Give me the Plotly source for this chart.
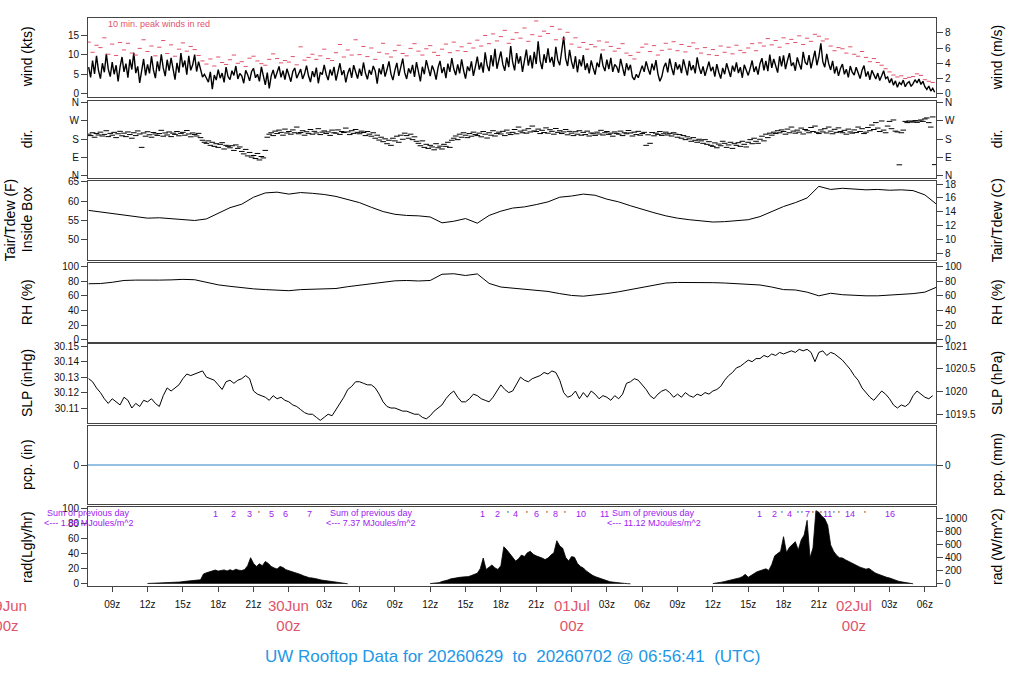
import plotly.graph_objects as go
from datetime import datetime, timedelta

FONT = "Liberation Sans, Arial, Helvetica, sans-serif"
RED = "#DF536B"
PURPLE = "#A020F0"
BLUE = "#2297E6"
PCP_BLUE = "#2E82C6"
FRAME = "#444444"

T_START = datetime(2026, 6, 29, 6, 56, 41)
T_END = datetime(2026, 7, 2, 6, 56, 41)
SERIES_START = datetime(2026, 6, 29, 7, 0)

# ---------------- data ----------------
# mean wind (kts), 10-minute steps from 29Jun 07:00
wind_kts = [
    6.8, 4.2, 8.5, 5.1, 9.7, 6.0,  3.9, 7.8, 5.5, 10.2, 6.3, 4.4,
    8.1, 5.0, 7.3, 3.2, 6.9, 9.4,  5.6, 7.7, 4.1, 8.8, 6.2, 10.5,
    5.3, 7.0, 2.8, 6.4, 8.9, 4.7,  7.5, 5.2, 9.6, 6.1, 4.0, 8.3,
    5.8, 10.1, 6.6, 4.5, 8.7, 5.9, 9.2, 6.4, 3.6, 7.9, 5.4, 10.4,
    6.8, 8.5, 4.9, 9.7, 6.0, 7.4,  10.0, 5.7, 8.2, 6.3, 4.3, 5.0,
    4.1, 3.0, 5.6, 1.2, 4.8, 3.5,  6.2, 4.0, 5.3, 2.9, 6.8, 4.4,
    3.6, 5.9, 4.7, 7.1, 3.8, 5.2,  4.6, 2.7, 6.0, 4.9, 3.3, 5.7,
    6.5, 4.1, 5.0, 3.2, 6.9, 4.5,  2.3, 5.4, 1.4, 4.6, 6.1, 3.9,
    5.5, 7.0, 4.2, 5.9, 3.6, 6.4,  4.8, 3.1, 5.7, 6.6, 4.0, 5.3,
    6.3, 3.8, 5.1, 7.2, 4.6, 3.0,  5.8, 4.3, 6.7, 2.7, 5.5, 4.9,
    7.4, 5.0, 3.5, 6.2, 4.7, 6.9,  3.4, 5.6, 7.8, 4.8, 6.0, 2.9,
    5.2, 6.6, 4.1, 7.3, 5.5, 3.9,  6.4, 4.6, 8.0, 5.3, 3.7, 6.1,
    4.9, 7.1, 5.8, 2.6, 6.5, 5.0,  7.6, 4.4, 6.2, 8.3, 5.1, 3.5,
    6.0, 7.9, 4.6, 6.8, 9.0, 5.4,  3.8, 6.5, 5.2, 7.4, 4.3, 8.1,
    5.7, 3.2, 6.9, 5.0, 8.6, 6.2,  4.5, 7.2, 5.9, 3.6, 6.7, 8.4,
    5.3, 6.8, 4.0, 7.7, 5.6, 9.1,  6.4, 4.8, 7.5, 5.2, 8.8, 6.0,
    3.9, 7.0, 5.8, 8.3, 4.6, 6.9,  9.5, 6.2, 8.0, 5.4, 10.6, 7.3,
    5.8, 9.9, 7.0, 11.5, 6.4, 8.7, 10.8, 7.5, 5.9, 9.3, 6.8, 12.2,
    8.1, 6.0, 10.4, 7.7, 9.6, 5.6, 8.9, 11.3, 7.2, 9.8, 6.5, 10.7,
    7.6, 13.4, 8.4, 6.3, 10.1, 7.9, 11.6, 8.0, 9.4, 6.9, 12.0, 8.6,
    7.3, 10.5, 14.6, 9.0, 7.1, 11.2, 8.2, 6.4, 9.6, 5.5, 8.8, 7.0,
    9.9, 6.1, 7.8, 5.2, 8.5, 6.6,  4.9, 8.0, 6.8, 10.3, 7.2, 5.8,
    8.7, 6.3, 9.2, 5.6, 7.5, 6.9,  5.4, 8.9, 7.1, 4.6, 7.8, 6.0,
    7.4, 4.3, 3.6, 5.0, 4.1, 5.7,  7.2, 5.6, 8.3, 6.4, 4.9, 7.7,
    6.0, 8.6, 5.1, 3.2, 4.4, 6.8,  7.9, 5.5, 9.0, 6.6, 4.8, 8.1,
    6.2, 7.5, 5.3, 8.8, 6.9, 4.7,  8.4, 6.0, 7.3, 5.2, 9.3, 6.7,
    5.1, 7.0, 4.6, 6.3, 8.2, 5.8,  6.9, 4.4, 7.6, 5.5, 3.9, 6.6,
    5.0, 7.8, 6.1, 4.3, 7.2, 5.7,  8.0, 5.3, 6.8, 4.1, 7.4, 6.2,
    4.7, 6.5, 8.5, 5.6, 7.0, 4.9,  7.7, 9.1, 6.0, 8.4, 5.8, 10.0,
    6.6, 8.9, 7.2, 5.4, 9.6, 7.0,  9.8, 6.3, 8.5, 10.4, 7.1, 8.0,
    5.9, 9.3, 7.6, 6.2, 10.7, 8.1, 7.4, 9.9, 6.5, 8.8, 11.0, 7.3,
    9.5, 12.9, 8.2, 6.8, 10.2, 7.7, 6.1, 8.4, 5.2, 7.0, 4.6, 6.5,
    7.6, 5.0, 6.3, 4.2, 7.1, 5.5,  4.8, 6.8, 5.6, 3.9, 6.0, 7.2,
    4.4, 5.7, 3.6, 6.0, 4.9, 3.8,  5.3, 3.4, 4.6, 5.9, 3.9, 4.3,
    2.8, 3.9, 2.2, 3.3, 1.7, 2.9,  2.4, 3.5, 1.8, 2.7, 3.1, 1.9,
    2.6, 3.6, 2.8, 3.8, 2.4, 3.2,  1.8, 1.1, 2.0, 0.7, 1.4, 0.4,
]

# 10-minute peak wind (kts), 20-minute steps from 29Jun 07:00
peak_kts = [
    13.2, 10.6, 12.4, 11.8, 14.3, 10.1, 12.7, 9.8, 13.1, 11.2, 12.9, 10.4,
    9.9, 11.6, 13.8, 10.8, 12.2, 9.7, 11.9, 13.6, 10.3, 12.5, 9.6, 11.4,
    13.0, 10.9, 12.1, 11.3, 9.8, 8.4, 7.6, 8.9, 7.1, 9.4, 8.0, 7.5,
    8.7, 9.9, 7.8, 8.2, 7.0, 9.1, 9.6, 8.4, 7.7, 7.3, 8.8, 10.2,
    9.0, 7.9, 8.5, 8.1, 9.5, 7.4, 12.0, 8.6, 9.3, 10.1, 8.8, 9.7,
    11.4, 9.0, 8.5, 10.5, 12.6, 9.4, 11.2, 9.9, 13.8, 10.0, 12.1, 9.5,
    11.7, 8.8, 10.6, 12.9, 10.2, 9.4, 11.0, 12.4, 10.3, 9.7, 11.6, 12.8,
    10.9, 9.9, 11.5, 12.3, 10.6, 9.8, 11.4, 12.7, 10.5, 13.2, 11.0, 12.0,
    10.8, 12.9, 11.7, 13.7, 12.2, 14.9, 12.8, 15.3, 13.5, 14.6, 16.2, 12.9,
    13.9, 15.6, 14.2, 16.8, 13.4, 15.1, 18.6, 14.7, 16.0, 15.4, 17.2, 13.8,
    16.5, 14.0, 15.7, 12.7, 14.3, 11.9, 13.1, 11.4, 12.6, 12.0, 13.5, 11.2,
    13.2, 12.1, 10.9, 11.6, 12.8, 10.4, 9.8, 8.9, 10.6, 11.9, 12.7, 10.8,
    12.3, 9.9, 11.1, 12.9, 11.4, 13.3, 11.0, 12.6, 10.7, 12.1, 13.0, 11.5,
    10.4, 11.8, 10.0, 11.3, 9.8, 12.2, 10.6, 11.9, 10.2, 12.4, 11.1, 10.5,
    11.7, 12.8, 11.0, 13.0, 12.2, 14.1, 12.5, 13.6, 11.9, 14.3, 12.8, 13.9,
    13.1, 14.8, 12.6, 14.2, 13.4, 15.2, 14.7, 13.5, 14.0, 12.2, 11.0, 11.8,
    11.5, 10.4, 12.0, 10.1, 9.6, 10.8, 9.3, 8.2, 9.0, 8.0, 7.3, 6.4,
    5.6, 4.8, 4.3, 4.6, 3.9, 4.2, 4.4, 5.1, 4.7, 3.6, 3.2, 2.9,
]

# wind direction (deg), 10-minute steps from 29Jun 07:00
dir_deg = [
    205, 198, 212, 190, 208, 201, 215, 196, 204, 222, 193, 209,
    200, 214, 188, 207, 219, 197, 210, 193, 216, 203, 185, 212,
    198, 221, 206, 140, 211, 195, 217, 202, 190, 213, 206, 199,
    208, 224, 195, 211, 201, 216, 193, 210, 204, 218, 197, 209,
    214, 200, 223, 206, 192, 211, 203, 196, 209, 188, 175, 165,
    160, 172, 150, 165, 145, 158, 140, 155, 163, 132, 150, 145,
    138, 148, 125, 152, 135, 142, 120, 108, 130, 98, 115, 92,
    100, 85, 110, 78, 95, 88, 125, 190, 205, 212, 198, 220,
    208, 225, 214, 200, 230, 211, 218, 205, 226, 212, 240, 207,
    213, 222, 200, 217, 209, 228, 205, 219, 211, 232, 203, 215,
    221, 208, 216, 199, 225, 212, 210, 226, 204, 218, 213, 235,
    216, 203, 222, 209, 228, 214, 207, 220, 213, 198, 218, 205,
    195, 212, 185, 200, 176, 190, 168, 182, 158, 175, 150, 185,
    172, 195, 165, 200, 180, 210, 198, 185, 205, 178, 192, 170,
    160, 148, 172, 140, 155, 135, 150, 142, 128, 158, 138, 146,
    132, 155, 145, 165, 140, 175, 185, 196, 178, 205, 190, 212,
    200, 188, 208, 195, 215, 203, 198, 210, 192, 218, 205, 186,
    212, 200, 222, 196, 208, 215, 206, 219, 198, 225, 211, 203,
    214, 228, 207, 240, 220, 212, 225, 210, 232, 216, 245, 221,
    218, 230, 208, 224, 213, 236, 210, 227, 219, 205, 233, 214,
    222, 208, 216, 228, 202, 219, 210, 198, 217, 205, 222, 200,
    214, 203, 220, 196, 211, 207, 199, 215, 206, 224, 201, 212,
    218, 204, 210, 195, 216, 209, 205, 220, 198, 212, 207, 223,
    211, 196, 215, 203, 219, 200, 208, 214, 150, 202, 160, 213,
    197, 210, 204, 218, 199, 207, 215, 201, 209, 196, 212, 205,
    190, 203, 185, 198, 178, 192, 182, 170, 188, 175, 165, 180,
    172, 160, 178, 155, 168, 150, 145, 162, 138, 156, 148, 170,
    160, 140, 152, 165, 135, 158, 150, 163, 145, 170, 155, 142,
    165, 178, 158, 185, 170, 160, 180, 195, 172, 205, 188, 210,
    200, 215, 208, 222, 212, 226, 218, 205, 230, 212, 240, 220,
    210, 225, 215, 235, 206, 228, 222, 212, 238, 218, 245, 214,
    208, 226, 216, 232, 211, 240, 220, 207, 229, 214, 236, 218,
    212, 224, 205, 230, 216, 210, 226, 213, 240, 218, 232, 208,
    215, 238, 222, 250, 228, 262, 235, 218, 270, 225, 212, 245,
    268, 232, 275, 220, 216, 54, 212, 225, 268, 262, 270, 265,
    266, 272, 263, 270, 275, 268, 280, 285, 262, 240, 290, 55,
]

# hourly air temperature in box (F) from 29Jun 07:00, plus the last reading
tair_f = [
    57.6, 57.2, 56.8, 56.3, 55.9, 55.6, 55.7, 55.5, 55.2, 55.0,
    55.4, 56.9, 58.3, 59.2, 61.0, 62.1, 62.3, 61.8, 62.2, 62.0,
    61.7, 61.2, 60.4, 59.6, 58.4, 57.3, 56.6, 56.3, 56.2, 55.9,
    54.4, 54.8, 55.5, 54.3, 56.3, 57.4, 58.2, 58.5, 59.1, 59.8,
    61.0, 61.3, 61.8, 61.5, 60.5, 59.8, 58.8, 57.8, 57.0, 56.2,
    55.6, 55.2, 54.9, 54.6, 54.7, 54.9, 55.2, 56.0, 57.4, 58.6,
    59.6, 60.8, 63.8, 63.0, 63.3, 63.1, 62.9, 63.0, 62.8, 62.9,
    62.7, 61.6,
]
tair_last_f = 59.3

# hourly relative humidity (%) from 29Jun 07:00, plus the last reading
rh_pct = [
    76.5, 76.8, 78.5, 81.0, 81.5, 81.0, 81.5, 81.8, 82.5, 82.0,
    78.5, 75.0, 73.0, 71.0, 69.5, 68.5, 67.5, 67.0, 68.5, 68.8,
    69.0, 70.0, 72.5, 74.5, 76.3, 78.5, 80.5, 81.0, 80.3, 81.0,
    89.5, 90.2, 87.8, 90.0, 77.0, 72.0, 70.5, 70.0, 68.5, 66.0,
    63.0, 60.5, 59.5, 61.0, 63.0, 65.5, 68.5, 71.5, 75.5, 77.5,
    78.3, 78.4, 78.2, 78.0, 77.5, 76.8, 75.8, 74.8, 72.0, 68.5,
    68.0, 65.0, 60.0, 63.5, 61.5, 60.4, 60.0, 60.0, 60.8, 61.5,
    63.0, 65.0,
]
rh_last_pct = 71.5

# sea level pressure (inHg), 20-minute steps from 29Jun 07:00
slp_inhg = [
    30.129, 30.127, 30.123, 30.120, 30.116, 30.113, 30.116, 30.114, 30.112,
    30.117, 30.115, 30.110, 30.113, 30.111, 30.115, 30.114, 30.116, 30.113,
    30.111, 30.118, 30.123, 30.121, 30.123, 30.125, 30.129, 30.132, 30.131,
    30.132, 30.133, 30.134, 30.130, 30.129, 30.128, 30.125, 30.122, 30.127,
    30.128, 30.126, 30.128, 30.129, 30.131, 30.129, 30.121, 30.119, 30.118,
    30.117, 30.115, 30.118, 30.116, 30.117, 30.115, 30.114, 30.112, 30.111,
    30.109, 30.107, 30.106, 30.106, 30.104, 30.102, 30.104, 30.106, 30.105,
    30.109, 30.113, 30.117, 30.122, 30.124, 30.127, 30.127, 30.126, 30.125,
    30.125, 30.123, 30.119, 30.114, 30.111, 30.110, 30.110, 30.109, 30.108,
    30.108, 30.107, 30.106, 30.106, 30.104, 30.103, 30.105, 30.108, 30.110,
    30.112, 30.116, 30.119, 30.121, 30.117, 30.114, 30.114, 30.116, 30.119,
    30.118, 30.116, 30.115, 30.114, 30.117, 30.121, 30.125, 30.122, 30.120,
    30.121, 30.126, 30.130, 30.128, 30.127, 30.129, 30.130, 30.131, 30.133,
    30.132, 30.134, 30.133, 30.128, 30.120, 30.117, 30.118, 30.121, 30.116,
    30.120, 30.117, 30.121, 30.119, 30.116, 30.118, 30.117, 30.115, 30.118,
    30.116, 30.119, 30.126, 30.127, 30.129, 30.128, 30.125, 30.122, 30.118,
    30.116, 30.119, 30.121, 30.122, 30.120, 30.117, 30.119, 30.117, 30.120,
    30.118, 30.117, 30.119, 30.118, 30.120, 30.119, 30.121, 30.122, 30.124,
    30.128, 30.131, 30.133, 30.136, 30.137, 30.139, 30.141, 30.140, 30.142,
    30.142, 30.144, 30.143, 30.145, 30.144, 30.146, 30.145, 30.146, 30.147,
    30.146, 30.148, 30.147, 30.148, 30.146, 30.140, 30.146, 30.147, 30.144,
    30.146, 30.145, 30.143, 30.141, 30.138, 30.135, 30.131, 30.128, 30.123,
    30.120, 30.117, 30.115, 30.118, 30.121, 30.119, 30.116, 30.112, 30.110,
    30.112, 30.111, 30.113, 30.118, 30.121, 30.119, 30.117, 30.116, 30.118,
]

# precipitation (in): nothing fell
pcp_in = [0.0, 0.0]

# solar radiation, 15-minute steps from 12:00 UTC each day
rad_day1_lgly = [
    0.4, 0.5, 0.6, 0.7, 0.9, 1.0, 1.2, 1.3, 1.5, 1.8, 2.0, 2.3,
    2.9, 3.5, 4.0, 4.4, 4.7, 4.9, 5.2, 13.0, 14.5, 16.0, 17.5, 18.2,
    16.8, 17.5, 18.4, 17.0, 18.6, 17.2, 19.3, 18.0, 17.5, 19.0, 24.0, 34.5,
    27.0, 23.0, 26.5, 24.0, 29.5, 27.0, 23.0, 21.0, 19.5, 23.0, 21.5, 18.7,
    17.5, 16.5, 15.0, 13.5, 12.3, 10.5, 9.0, 8.0, 7.6, 7.2, 6.0, 5.0,
    4.5, 4.0, 3.6, 3.0, 2.3, 1.5, 1.0, 0.5, 0.0,
]
rad_day2_lgly = [
    0.3, 0.6, 1.0, 1.5, 3.0, 3.8, 5.0, 6.5, 7.5, 8.0, 8.5, 9.0,
    9.0, 9.5, 11.0, 12.5, 14.0, 20.0, 34.0, 19.0, 22.0, 25.0, 21.0, 19.0,
    24.0, 49.0, 45.0, 40.0, 35.0, 30.0, 33.0, 38.0, 36.0, 41.0, 43.0, 39.0,
    37.0, 36.0, 34.0, 32.0, 34.0, 38.0, 41.0, 57.0, 50.0, 47.0, 35.0, 30.0,
    36.0, 35.0, 27.0, 23.0, 21.0, 17.0, 14.0, 11.5, 9.5, 8.0, 6.5, 5.0,
    3.5, 2.8, 2.2, 1.6, 1.0, 0.8, 0.5, 0.2, 0.0,
]
rad_day3_wm2 = [
    3, 8, 15, 25, 35, 45, 55, 65, 75, 90, 110, 145,
    100, 130, 160, 185, 200, 215, 230, 206, 296, 430, 470, 500,
    724, 480, 560, 600, 648, 520, 673, 750, 975, 400, 550, 1125,
    1100, 1040, 1000, 900, 598, 500, 440, 400, 397, 370, 345, 322,
    296, 275, 255, 240, 225, 236, 200, 171, 150, 130, 115, 100,
    90, 70, 50, 40, 30, 22, 15, 8, 0,
]
rad_day_starts = [datetime(2026, 6, 29, 12), datetime(2026, 6, 30, 12), datetime(2026, 7, 1, 12)]

# cumulative MJ/m^2 markers along the top of the radiation panel
mj_times = [
    "2026-06-29 17:47", "2026-06-29 19:16", "2026-06-29 20:37", "2026-06-29 21:28",
    "2026-06-29 22:30", "2026-06-29 23:45", "2026-06-30 01:44",
    "2026-06-30 16:24", "2026-06-30 17:42", "2026-06-30 18:38", "2026-06-30 19:14",
    "2026-06-30 20:15", "2026-06-30 21:01", "2026-06-30 21:57", "2026-06-30 22:38",
    "2026-06-30 23:29", "2026-07-01 00:46", "2026-07-01 02:48",
    "2026-07-01 16:00", "2026-07-01 17:13", "2026-07-01 17:52", "2026-07-01 18:30",
    "2026-07-01 19:14", "2026-07-01 19:34", "2026-07-01 20:04", "2026-07-01 20:30",
    "2026-07-01 20:51", "2026-07-01 21:11", "2026-07-01 21:42", "2026-07-01 22:18",
    "2026-07-01 22:43", "2026-07-01 23:40", "2026-07-02 00:56", "2026-07-02 03:04",
]
mj_labels = [
    "1", "2", "3", "'", "5", "6", "7",
    "1", "2", "'", "4", "'", "6", "'", "8", "'", "10", "11",
    "1", "2", "'", "4", "'", "'", "7", "'", "'", "'", "11", "'", "'", "14", "'", "16",
]
rad_sum_times = ["2026-06-29 07:00", "2026-06-30 07:00", "2026-07-01 07:00"]
rad_sum_mj = [1.88, 7.37, 11.12]

day_labels = ["29Jun", "30Jun", "01Jul", "02Jul"]
day_times = [datetime(2026, 6, 29), datetime(2026, 6, 30), datetime(2026, 7, 1), datetime(2026, 7, 2)]
hour_tick_times = [datetime(2026, 6, 29, 9) + timedelta(hours=3 * k) for k in range(24)]
hour_tick_labels = ["" if t.hour == 0 else "%02dz" % t.hour for t in hour_tick_times]

TITLE = "UW Rooftop Data for 20260629\u00a0 to\u00a0 20260702 @ 06:56:41\u00a0 (UTC)"

# unit conversions
KTS_TO_MS = 0.514444
INHG_TO_HPA = 33.8639
LGLY_TO_WM2 = 11.622


def f_to_c(f):
    return (f - 32.0) / 1.8


def steps(start, minutes, n):
    return [start + timedelta(minutes=minutes * i) for i in range(n)]


# ---------------- layout geometry ----------------
W, H = 1024, 700
XDOM = [88 / W, 936 / W]
PANELS_PX = [(13, 93), (97, 175), (178, 258), (261, 341), (343, 423), (426, 506), (509, 589)]


def ydom(p):
    return [1 - p[1] / H, 1 - p[0] / H]


def pcenter(p):
    return 1 - (p[0] + p[1]) / 2 / H


def xfrac(t):
    return XDOM[0] + (t - T_START) / (T_END - T_START) * (XDOM[1] - XDOM[0])


wind_rng = [-0.76, 19.4]
tair_rng = [44.9, 65.25]
slp_rng = [30.1006, 30.1517]
rad_rng = [-3.5, 101.0]

axes_spec = [
    dict(lr=wind_rng, lt=[0, 5, 10, 15], ltt=None,
         rr=[v * KTS_TO_MS for v in wind_rng], rt=[0, 2, 4, 6, 8], rtt=None,
         lt_title=["wind (kts)"], rt_title="wind (m/s)"),
    dict(lr=[-9.7, 369.7], lt=[0, 90, 180, 270, 360], ltt=["N", "E", "S", "W", "N"],
         rr=[-9.7, 369.7], rt=[0, 90, 180, 270, 360], rtt=["N", "E", "S", "W", "N"],
         lt_title=["dir."], rt_title="dir."),
    dict(lr=tair_rng, lt=[50, 55, 60, 65], ltt=None,
         rr=[f_to_c(v) for v in tair_rng], rt=[8, 10, 12, 14, 16, 18], rtt=None,
         lt_title=["Tair/Tdew (F)", "Inside Box"], rt_title="Tair/Tdew (C)"),
    dict(lr=[-2.7, 105.4], lt=[0, 20, 40, 60, 80, 100], ltt=None,
         rr=[-2.7, 105.4], rt=[0, 20, 40, 60, 80, 100], rtt=None,
         lt_title=["RH (%)"], rt_title="RH (%)"),
    dict(lr=slp_rng, lt=[30.11, 30.12, 30.13, 30.14, 30.15],
         ltt=["30.11", "30.12", "30.13", "30.14", "30.15"],
         rr=[v * INHG_TO_HPA for v in slp_rng], rt=[1019.5, 1020, 1020.5, 1021],
         rtt=["1019.5", "1020", "1020.5", "1021"],
         lt_title=["SLP (inHg)"], rt_title="SLP (hPa)"),
    dict(lr=[-1, 1], lt=[0], ltt=None, rr=[-1, 1], rt=[0], rtt=None,
         lt_title=["pcp. (in)"], rt_title="pcp. (mm)"),
    dict(lr=rad_rng, lt=[0, 20, 40, 60, 80, 100], ltt=None,
         rr=[v * LGLY_TO_WM2 for v in rad_rng], rt=[0, 200, 400, 600, 800, 1000], rtt=None,
         lt_title=["rad(Lgly/hr)"], rt_title="rad (W/m^2)"),
]

fig = go.Figure()
layout = dict(
    width=W, height=H, margin=dict(l=0, r=0, t=0, b=0),
    paper_bgcolor="white", plot_bgcolor="white", showlegend=False,
    font=dict(family=FONT, size=10, color="black"),
    hovermode=False,
)

annotations = []
tickfont = dict(family=FONT, size=10, color="#111111")


def refs(n):
    xr = "x" if n == 1 else "x%d" % n
    yl = 2 * n - 1
    ylr = "y" if yl == 1 else "y%d" % yl
    yrr = "y%d" % (2 * n)
    return xr, ylr, yrr


for i, spec in enumerate(axes_spec):
    n = i + 1
    xr, ylr, yrr = refs(n)
    xk = "xaxis" if n == 1 else "xaxis%d" % n
    ylk = "yaxis" if ylr == "y" else "yaxis" + ylr[1:]
    yrk = "yaxis" + yrr[1:]
    bottom = (n == 7)
    xa = dict(type="date", range=[T_START, T_END], domain=XDOM, anchor=ylr,
              showline=True, mirror=True, linecolor=FRAME, linewidth=1,
              showgrid=False, zeroline=False, fixedrange=True)
    if n > 1:
        xa["matches"] = "x"
    if bottom:
        xa.update(tickmode="array", tickvals=hour_tick_times, ticktext=hour_tick_labels,
                  ticks="outside", ticklen=5, tickcolor=FRAME, tickwidth=1,
                  showticklabels=True, tickfont=tickfont, ticklabelstandoff=4)
    else:
        xa.update(showticklabels=False, ticks="")
    layout[xk] = xa
    ya = dict(domain=ydom(PANELS_PX[i]), anchor=xr, range=spec["lr"],
              tickmode="array", tickvals=spec["lt"], ticks="outside", ticklen=6,
              tickcolor=FRAME, tickwidth=1, showline=True, mirror=True,
              linecolor=FRAME, linewidth=1, showgrid=False, zeroline=False,
              tickfont=tickfont, fixedrange=True)
    if spec["ltt"]:
        ya["ticktext"] = spec["ltt"]
    layout[ylk] = ya
    yb = dict(overlaying=ylr, side="right", anchor=xr, range=spec["rr"],
              tickmode="array", tickvals=spec["rt"], ticks="outside", ticklen=6,
              tickcolor=FRAME, tickwidth=1, showline=False, showgrid=False,
              zeroline=False, tickfont=tickfont, fixedrange=True)
    if spec["rtt"]:
        yb["ticktext"] = spec["rtt"]
    layout[yrk] = yb
    # keep right axis alive
    fig.add_trace(go.Scatter(x=[T_START], y=[None], xaxis=xr, yaxis=yrr,
                             mode="lines", hoverinfo="skip"))
    # axis titles
    ttl = spec["lt_title"]
    xs = [27] if len(ttl) == 1 else [10, 27]
    for xpx, tt in zip(xs, ttl):
        annotations.append(dict(text=tt, xref="paper", yref="paper", x=xpx / W,
                                y=pcenter(PANELS_PX[i]), textangle=-90, showarrow=False,
                                xanchor="center", yanchor="middle",
                                font=dict(family=FONT, size=14, color="black")))
    annotations.append(dict(text=spec["rt_title"], xref="paper", yref="paper", x=997 / W,
                            y=pcenter(PANELS_PX[i]), textangle=-90, showarrow=False,
                            xanchor="center", yanchor="middle",
                            font=dict(family=FONT, size=14, color="black")))

# ---------------- traces ----------------
xr, ylr, yrr = refs(1)
fig.add_trace(go.Scatter(x=steps(SERIES_START, 10, len(wind_kts)), y=wind_kts, xaxis=xr, yaxis=ylr,
                         mode="lines", line=dict(color="black", width=1.4)))
fig.add_trace(go.Scatter(x=steps(SERIES_START, 20, len(peak_kts)), y=peak_kts, xaxis=xr, yaxis=ylr,
                         mode="markers",
                         marker=dict(symbol="line-ew", size=3, color=RED,
                                     line=dict(color=RED, width=1))))

xr, ylr, yrr = refs(2)
fig.add_trace(go.Scatter(x=steps(SERIES_START, 10, len(dir_deg)), y=dir_deg, xaxis=xr, yaxis=ylr,
                         mode="markers",
                         marker=dict(symbol="line-ew", size=4, color="black",
                                     line=dict(color="black", width=1))))

hourly_times = steps(SERIES_START, 60, len(tair_f)) + [T_END]
xr, ylr, yrr = refs(3)
fig.add_trace(go.Scatter(x=hourly_times, y=tair_f + [tair_last_f], xaxis=xr, yaxis=ylr,
                         mode="lines", line=dict(color="black", width=1)))

xr, ylr, yrr = refs(4)
fig.add_trace(go.Scatter(x=hourly_times, y=rh_pct + [rh_last_pct], xaxis=xr, yaxis=ylr,
                         mode="lines", line=dict(color="black", width=1)))

xr, ylr, yrr = refs(5)
fig.add_trace(go.Scatter(x=steps(SERIES_START, 20, len(slp_inhg)), y=slp_inhg, xaxis=xr, yaxis=ylr,
                         mode="lines", line=dict(color="black", width=1)))

xr, ylr, yrr = refs(6)
fig.add_trace(go.Scatter(x=[T_START, T_END], y=pcp_in, xaxis=xr, yaxis=ylr,
                         mode="lines", line=dict(color=PCP_BLUE, width=1)))

xr, ylr, yrr = refs(7)
for start, vals, yax in [(rad_day_starts[0], rad_day1_lgly, ylr),
                         (rad_day_starts[1], rad_day2_lgly, ylr),
                         (rad_day_starts[2], rad_day3_wm2, yrr)]:
    fig.add_trace(go.Scatter(x=steps(start, 15, len(vals)), y=vals, xaxis=xr, yaxis=yax,
                             mode="lines", line=dict(color="black", width=0.8),
                             fill="tozeroy", fillcolor="black"))

# ---------------- annotations ----------------
for t, lab in zip(mj_times, mj_labels):
    tick = (lab == "'")
    annotations.append(dict(text=lab, xref="x7", yref="paper", x=t, y=1 - 516 / H,
                            showarrow=False, xanchor="center", yanchor="middle",
                            font=dict(family=FONT, size=9, color="#333333" if tick else PURPLE)))
for t, v in zip(rad_sum_times, rad_sum_mj):
    annotations.append(dict(text="Sum of previous day", xref="x7", yref="paper", x=t,
                            y=1 - 515 / H, showarrow=False, xanchor="center", yanchor="middle",
                            font=dict(family=FONT, size=9, color=PURPLE)))
    annotations.append(dict(text="<--- %.2f MJoules/m^2" % v, xref="x7", yref="paper", x=t,
                            y=1 - 525 / H, showarrow=False, xanchor="center", yanchor="middle",
                            font=dict(family=FONT, size=9, color=PURPLE)))

for t, lab in zip(day_times, day_labels):
    annotations.append(dict(text=lab + "<br>00z", xref="paper", yref="paper", x=xfrac(t),
                            y=1 - 618 / H, showarrow=False, xanchor="center", yanchor="middle",
                            font=dict(family=FONT, size=15, color=RED)))

annotations.append(dict(text="10 min. peak winds in red", xref="paper", yref="paper",
                        x=106 / W, y=1 - 19 / H, showarrow=False, xanchor="left",
                        yanchor="middle", font=dict(family=FONT, size=9, color=RED)))

annotations.append(dict(text=TITLE, xref="paper", yref="paper", x=0.5, y=1 - 660 / H,
                        showarrow=False, xanchor="center", yanchor="middle",
                        font=dict(family=FONT, size=17, color=BLUE)))

layout["annotations"] = annotations
fig.update_layout(**layout)
fig.write_html("out.html", config={"displayModeBar": False},
               post_script="document.body.style.margin='0px';document.body.style.overflow='hidden';")
